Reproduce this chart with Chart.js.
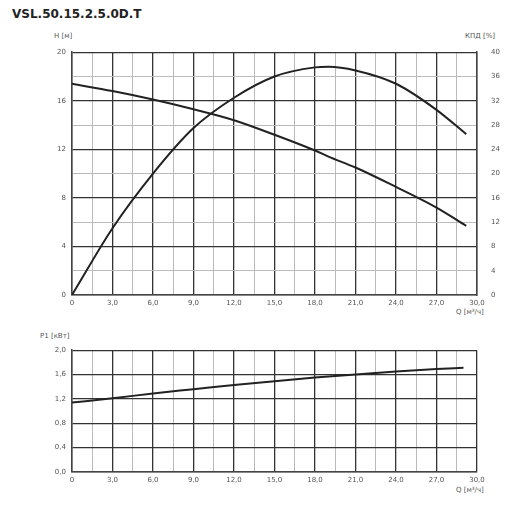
<!DOCTYPE html>
<html>
<head>
<meta charset="utf-8">
<script src="https://cdn.jsdelivr.net/npm/chart.js@4"></script>
<style>
  body { margin: 0; background: #fff; font-family: "DejaVu Sans", sans-serif; }
  .lbl { position: absolute; font-size: 7px; color: #555; white-space: nowrap; }
  #title { position: absolute; left: 12px; top: 7px; font-size: 12px; font-weight: bold; color: #222; }
  canvas { position: absolute; }
</style>
</head>
<body>
<div id="title">VSL.50.15.2.5.0D.T</div>
<div class="lbl" style="left:54px;top:32px">H [м]</div>
<div class="lbl" style="left:465px;top:32px">КПД [%]</div>
<div class="lbl" style="left:456px;top:308px">Q [м³/ч]</div>
<div class="lbl" style="left:40px;top:332px">P1 [кВт]</div>
<div class="lbl" style="left:456px;top:486px">Q [м³/ч]</div>
<canvas id="top" style="left:40px;top:42px;width:467px;height:273px" width="467" height="273"></canvas>
<canvas id="bot" style="left:40px;top:340px;width:467px;height:152px" width="467" height="152"></canvas>
<script>
const flow = [0, 3, 6, 9, 12, 15, 18, 19, 21, 24, 27, 29.2];
const head = [17.4, 16.8, 16.1, 15.3, 14.4, 13.2, 11.9, 11.4, 10.5, 8.9, 7.2, 5.7];
const efficiency = [0, 11, 20, 27.5, 32.5, 36, 37.5, 37.6, 37, 34.8, 30.5, 26.5];
const powerFlow = [0, 3, 6, 9, 12, 15, 18, 21, 24, 27, 29];
const power = [1.14, 1.21, 1.29, 1.36, 1.43, 1.49, 1.55, 1.60, 1.65, 1.69, 1.71];

Chart.defaults.font.family = 'DejaVu Sans';
Chart.defaults.font.size = 7;
Chart.defaults.color = '#555';

const pts = (xs, ys) => xs.map((x, i) => ({x: x, y: ys[i]}));
const line = (d, axis) => ({data: d, yAxisID: axis, borderColor: '#222', borderWidth: 2,
  pointRadius: 0, cubicInterpolationMode: 'monotone', fill: false});

const xAxis = {
  type: 'linear', min: 0, max: 30,
  border: {color: '#444', width: 1.5},
  grid: {color: c => (c.tick && Math.round(c.tick.value / 1.5) % 2 === 0) ? '#333' : '#bbb',
         lineWidth: c => (c.tick && Math.round(c.tick.value / 1.5) % 2 === 0) ? 1.3 : 1, drawTicks: false},
  ticks: {stepSize: 1.5, autoSkip: false, maxRotation: 0, padding: 4,
          callback: v => Math.round(v / 1.5) % 2 ? '' : (v === 0 ? '0' : v.toFixed(1).replace('.', ','))},
  afterFit: s => { s.height = 20; }
};

function yGrid(step) {
  return {
    color: c => (c.tick && Math.round(c.tick.value / step) % 2 === 0) ? '#333' : '#bbb',
    lineWidth: c => (c.tick && Math.round(c.tick.value / step) % 2 === 0) ? 1.3 : 1,
    drawTicks: false
  };
}

new Chart(document.getElementById('top'), {
  type: 'line',
  data: {datasets: [line(pts(flow, head), 'y'), line(pts(flow, efficiency), 'y1')]},
  options: {
    responsive: false, animation: false,
    layout: {padding: {top: 0}},
    plugins: {legend: {display: false}, tooltip: {enabled: false}},
    scales: {
      x: xAxis,
      y: {min: 0, max: 20, border: {color: '#444', width: 1.5}, grid: yGrid(2),
          ticks: {stepSize: 2, autoSkip: false, padding: 6, callback: v => v % 4 ? '' : v},
          afterFit: s => { s.width = 32; }},
      y1: {position: 'right', min: 0, max: 40, border: {color: '#444', width: 1.5},
           grid: {display: false}, ticks: {stepSize: 4, padding: 6},
           afterFit: s => { s.width = 30; }}
    }
  }
});

new Chart(document.getElementById('bot'), {
  type: 'line',
  data: {datasets: [line(pts(powerFlow, power), 'y')]},
  options: {
    responsive: false, animation: false,
    layout: {padding: {top: 0, right: 30}},
    plugins: {legend: {display: false}, tooltip: {enabled: false}},
    scales: {
      x: xAxis,
      y: {min: 0, max: 2, border: {color: '#444', width: 1.5}, grid: yGrid(0.2),
          ticks: {stepSize: 0.4, autoSkip: false, padding: 6, callback: v => v.toFixed(1).replace('.', ',')},
          afterFit: s => { s.width = 32; }},
    }
  }
});
</script>
</body>
</html>
